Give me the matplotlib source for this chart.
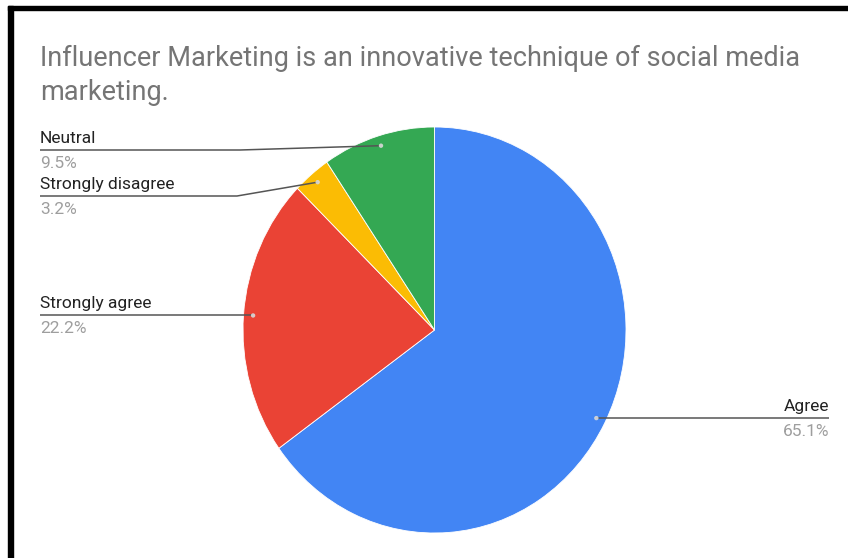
import matplotlib
matplotlib.use("Agg")
import matplotlib.pyplot as plt
import numpy as np
from matplotlib.patches import Rectangle

# ---- data ----
categories = ["Agree", "Strongly agree", "Strongly disagree", "Neutral"]
values = [65.1, 22.2, 3.2, 9.5]
pct_labels = ["65.1%", "22.2%", "3.2%", "9.5%"]
colors = ["#4285F4", "#EA4335", "#FBBC04", "#34A853"]
title_lines = ["Influencer Marketing is an innovative technique of social media",
               "marketing."]

# ---- layout (pixels) ----
W, H = 848, 558
CX, CY, RX, RY = 434.5, 330.0, 191.5, 203.0
DOT_R = 0.95
# per category: (label anchor x, underline y, side, elbow x or None)
label_layout = {
    "Agree": (829, 417, "right", None),
    "Strongly agree": (40, 315, "left", None),
    "Strongly disagree": (40, 196, "left", 237),
    "Neutral": (40, 150, "left", 240),
}

plt.rcParams['font.family'] = ['Roboto', 'DejaVu Sans']
fig = plt.figure(figsize=(W / 100, H / 100), dpi=100)
fig.patch.set_facecolor("white")

# pie axes spanning the pie's bounding box (slightly elliptic like the reference)
pax = fig.add_axes([(CX - RX) / W, 1 - (CY + RY) / H, 2 * RX / W, 2 * RY / H])
pax.pie(values, colors=colors, startangle=90, counterclock=False, radius=1,
        wedgeprops=dict(edgecolor="white", linewidth=0.6))
pax.set_aspect("auto")
pax.set_xlim(-1, 1)
pax.set_ylim(-1, 1)
pax.axis("off")

# overlay axes in pixel coordinates
ax = fig.add_axes([0, 0, 1, 1])
ax.set_zorder(3)
ax.patch.set_alpha(0)
ax.set_xlim(0, W)
ax.set_ylim(H, 0)
ax.axis("off")

# border
ax.add_patch(Rectangle((8, 6), 5, H, color="black", zorder=5))
ax.add_patch(Rectangle((8, 6), W, 4, color="black", zorder=5))

# title
t1 = ax.text(40, 66, title_lines[0], fontsize=17, color="#757575", va="baseline", ha="left")
t2 = ax.text(40, 100, title_lines[1], fontsize=17, color="#757575", va="baseline", ha="left")

fig.canvas.draw()
r = fig.canvas.get_renderer()
w = t1.get_window_extent(r).width
fs_title = 17 * 762 / w
t1.set_fontsize(fs_title)
t2.set_fontsize(fs_title)

# label font size fitted to "Strongly disagree" width
probe = ax.text(0, 0, "Strongly disagree", fontsize=12)
fig.canvas.draw()
wl = probe.get_window_extent(fig.canvas.get_renderer()).width
probe.remove()
fs_lab = 12 * 134 / wl

total = sum(values)
cum = 0.0
for cat, v, pl in zip(categories, values, pct_labels):
    mid = 90 - 360 * (cum + v / 2) / total
    cum += v
    a = np.deg2rad(mid)
    dx = CX + DOT_R * RX * np.cos(a)
    dy = CY - DOT_R * RY * np.sin(a)
    lx, ly, side, elbow = label_layout[cat]
    if elbow is None:
        xs, ys = [dx, lx], [dy, dy]
        ly = dy
    else:
        xs, ys = [dx, elbow, lx], [dy, ly, ly]
    ax.plot(xs, ys, color="#555555", lw=1.1, solid_capstyle="butt", zorder=4)
    ax.scatter([dx], [dy], s=10, color="#d9d9d9", edgecolors="none", zorder=6, alpha=0.9)
    ha = "left" if side == "left" else "right"
    ax.text(lx, ly - 7, cat, fontsize=fs_lab, color="#222222", ha=ha, va="baseline")
    ax.text(lx, ly + 18, pl, fontsize=fs_lab, color="#9e9e9e", ha=ha, va="baseline")

fig.savefig("out.png", dpi=100, facecolor="white")
